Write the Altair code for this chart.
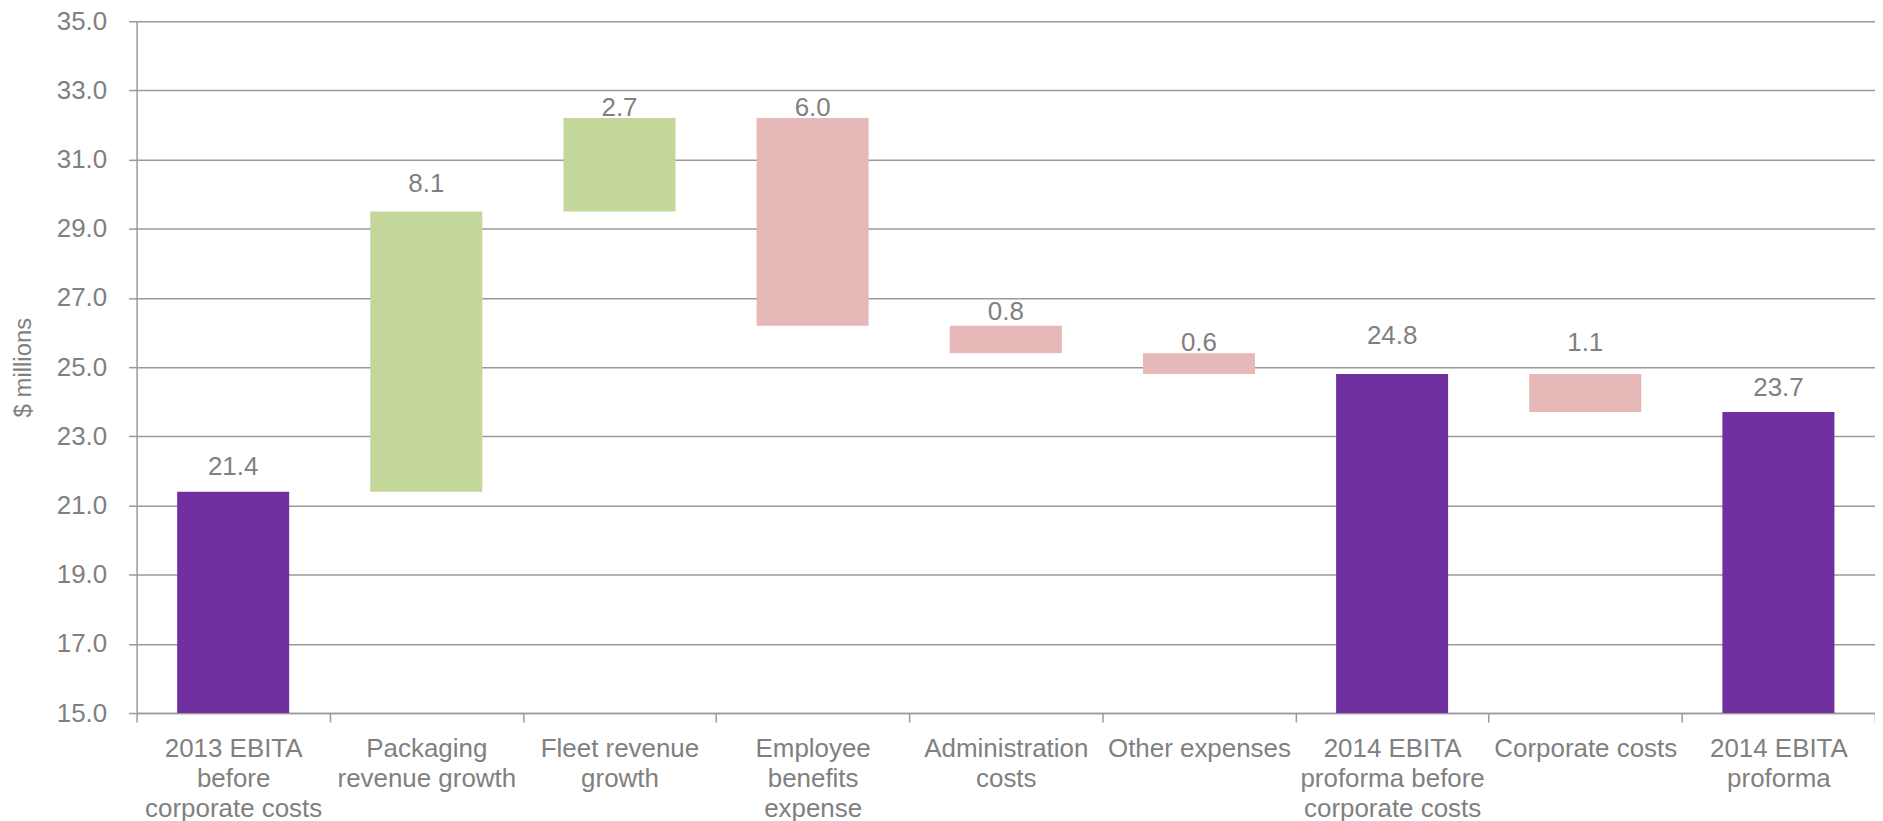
import altair as alt
import pandas as pd

categories = [
    "2013 EBITA\nbefore\ncorporate costs",
    "Packaging\nrevenue growth",
    "Fleet revenue\ngrowth",
    "Employee\nbenefits\nexpense",
    "Administration\ncosts",
    "Other expenses",
    "2014 EBITA\nproforma before\ncorporate costs",
    "Corporate costs",
    "2014 EBITA\nproforma",
]
kinds = ["total", "increase", "increase", "decrease", "decrease", "decrease", "total", "decrease", "total"]
amounts = [21.4, 8.1, 2.7, 6.0, 0.8, 0.6, 24.8, 1.1, 23.7]
label_y = [22.1, 30.3, 32.5, 32.5, 26.6, 25.7, 25.9, 25.7, 24.4]
y_ticks = [15, 17, 19, 21, 23, 25, 27, 29, 31, 33, 35]

rows = []
running = 0.0
for cat, kind, amt, ly in zip(categories, kinds, amounts, label_y):
    if kind == "total":
        start, end = 0.0, amt
        running = amt
    elif kind == "increase":
        start, end = running, running + amt
        running = end
    else:
        start, end = running, running - amt
        running = end
    rows.append({"category": cat, "kind": kind, "start": round(start, 2), "end": round(end, 2),
                 "label": f"{amt:.1f}", "label_y": ly})
df = pd.DataFrame(rows)

FONT = "Liberation Sans"
GRAY_TEXT = "#808080"
GRID = "#9a9a9a"
FS = 26

x_enc = alt.X(
    "category:N", sort=categories,
    scale=alt.Scale(paddingInner=0, paddingOuter=0),
    axis=alt.Axis(
        title=None, labelAngle=0,
        labelExpr="isValid(datum.value) ? split(datum.value, '\\n') : ''",
        tickBand="extent", tickSize=9, tickColor=GRID, tickWidth=1.5,
        domainColor=GRID, domainWidth=1.5, labelFont=FONT, labelFontSize=FS,
        labelColor=GRAY_TEXT, labelLineHeight=30, labelPadding=14, grid=False,
        labelBaseline="top", labelLimit=400, labelOverlap=False,
    ),
)

base = alt.Chart(df).encode(x=x_enc)

bars = base.mark_bar(width=alt.RelativeBandSize(0.58), clip=True).encode(
    y=alt.Y(
        "start:Q",
        scale=alt.Scale(domain=[15, 35], zero=False, nice=False),
        axis=alt.Axis(
            values=y_ticks, format=".1f", title="$ millions",
            titleFont=FONT, titleFontSize=24, titleFontWeight="normal", titleColor=GRAY_TEXT,
            titleX=-113, titleY=347, titleAngle=-90, titleAlign="center", titleBaseline="middle",
            labelFont=FONT, labelFontSize=FS, labelColor=GRAY_TEXT, labelPadding=22,
            tickSize=8, tickColor=GRID, tickWidth=1.5, domainColor=GRID, domainWidth=1.5,
            grid=True, gridColor=GRID, gridWidth=1.5,
        ),
    ),
    y2="end:Q",
    color=alt.Color(
        "kind:N",
        scale=alt.Scale(domain=["total", "increase", "decrease"],
                        range=["#7030A0", "#C4D79B", "#E6B8B7"]),
        legend=None,
    ),
)

text = base.mark_text(font=FONT, fontSize=FS, color=GRAY_TEXT, baseline="middle").encode(
    y=alt.Y("label_y:Q"),
    text="label:N",
)

chart = (
    alt.layer(bars, text)
    .properties(
        width=1744, height=694,
        padding={"left": 129, "top": 12, "right": 0, "bottom": 107},
        autosize=alt.AutoSizeParams(type="none"),
        background="white",
    )
    .configure_view(stroke=None)
)

chart.save("out.html", embed_options={"renderer": "svg", "actions": False})
